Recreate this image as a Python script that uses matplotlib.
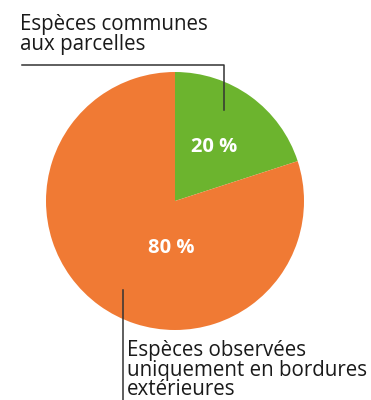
import matplotlib.pyplot as plt

# Data
labels = ["Espèces communes\naux parcelles",
          "Espèces observées\nuniquement en bordures\nextérieures"]
shares = [20, 80]
colors = ["#6cb42e", "#f07a34"]

plt.rcParams['font.family'] = ['Open Sans', 'DejaVu Sans']

fig = plt.figure(figsize=(3.71, 4.0), dpi=100)
ax = fig.add_axes([0, 0, 1, 1])

cx, cy, r = 175, 199, 129
wedges, texts, autotexts = ax.pie(
    shares, colors=colors, startangle=90, counterclock=False,
    center=(cx, cy), radius=r, frame=True,
    autopct=lambda p: f"{p:.0f} %", pctdistance=0.52,
    textprops=dict(color='white', fontsize=14.5, fontweight='bold'))
# the big slice label sits nearer the centre in the original
autotexts[1].set_position((171, 152))
ax.set_xlim(0, 371)
ax.set_ylim(0, 400)
ax.set_aspect('equal')
ax.axis('off')

# leader lines
ax.plot([22, 224, 224], [335, 335, 290], color='#333333', lw=1.1)
ax.plot([123, 123], [110, 0], color='#333333', lw=1.1)

ax.text(20, 386, labels[0], fontsize=14.8, va='top', ha='left',
        color='#1a1a1a', linespacing=0.92)
ax.text(127, 60, labels[1], fontsize=14.8, va='top', ha='left',
        color='#1a1a1a', linespacing=0.92)

fig.savefig('out.png', dpi=100)
